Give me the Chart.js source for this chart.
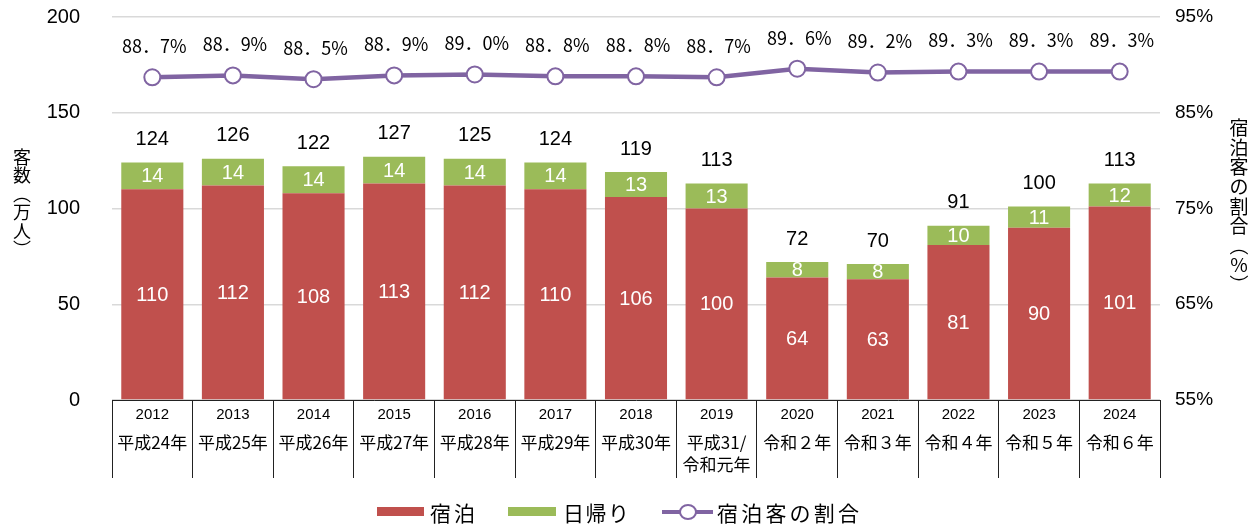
<!DOCTYPE html>
<html><head><meta charset="utf-8">
<script src="https://cdn.jsdelivr.net/npm/chart.js@4/dist/chart.umd.min.js"></script>
<style>html,body{margin:0;padding:0;background:#fff}#w{width:1258px;height:527px}</style>
</head><body><div id="w"><canvas id="c" width="1258" height="527"></canvas></div>
<script>
const years = ['2012','2013','2014','2015','2016','2017','2018','2019','2020','2021','2022','2023','2024'];
const eras = [['平成24年'],['平成25年'],['平成26年'],['平成27年'],['平成28年'],['平成29年'],['平成30年'],['平成31/','令和元年'],['令和２年'],['令和３年'],['令和４年'],['令和５年'],['令和６年']];
const stay = [110,112,108,113,112,110,106,100,64,63,81,90,101];
const dayTrip = [14,14,14,14,14,14,13,13,8,8,10,11,12];
const totals = [124,126,122,127,125,124,119,113,72,70,91,100,113];
const stayRatio = [88.7,88.9,88.5,88.9,89.0,88.8,88.8,88.7,89.6,89.2,89.3,89.3,89.3];
const leftTicks = [0,50,100,150,200];
const rightTicks = [55,65,75,85,95];
const leftTitle = '客数（万人）';
const rightTitle = '宿泊客の割合（%）';

const RED = '#C0504D', GREEN = '#9BBB59', PURPLE = '#8064A2';
const NUM = '"Liberation Sans", Arial, sans-serif';
const JP = '"Noto Sans CJK JP", "Noto Sans", sans-serif';

function vert(ch){ return ch === '（' ? '︵' : ch === '）' ? '︶' : ch; }

const labelsPlugin = {
  id: 'labelsPlugin',
  afterDatasetsDraw(chart) {
    const ctx = chart.ctx;
    ctx.save();
    ctx.textAlign = 'center';
    ctx.textBaseline = 'middle';
    [0,1].forEach(di => {
      const meta = chart.getDatasetMeta(di);
      const data = chart.data.datasets[di].data;
      meta.data.forEach((el, i) => {
        ctx.fillStyle = '#fff';
        ctx.font = '20px ' + NUM;
        ctx.fillText(String(data[i]), el.x, (el.y + el.base) / 2 + 1);
      });
    });
    const gm = chart.getDatasetMeta(1);
    gm.data.forEach((el, i) => {
      ctx.fillStyle = '#000';
      ctx.font = '20px ' + NUM;
      ctx.fillText(String(totals[i]), el.x, el.y - 23);
    });
    const lm = chart.getDatasetMeta(2);
    lm.data.forEach((el, i) => {
      ctx.fillStyle = '#000';
      ctx.font = '18px ' + JP;
      ctx.fillText(stayRatio[i].toFixed(1).replace('.', '．') + '%', el.x + 2, el.y - 31);
    });
    ctx.restore();
  },
  afterDraw(chart) {
    const ctx = chart.ctx;
    const xs = chart.scales.x;
    ctx.save();
    ctx.fillStyle = '#000';
    ctx.textAlign = 'center';
    ctx.textBaseline = 'middle';
    years.forEach((y, i) => {
      const x = xs.getPixelForValue(i);
      ctx.font = '15px ' + NUM;
      ctx.fillText(y, x, 415);
      ctx.font = '17px ' + JP;
      eras[i].forEach((t, k) => ctx.fillText(t, x, 443 + k * 22));
    });
    ctx.font = '18px ' + JP;
    [...leftTitle].forEach((ch, k) => ctx.fillText(vert(ch), 22, 157 + k * 18.5));
    ctx.font = '19px ' + JP;
    [...rightTitle].forEach((ch, k) => ctx.fillText(vert(ch), 1239, 128 + k * 19.6));
    const ly = 512;
    ctx.font = '21px ' + JP;
    ctx.textAlign = 'left';
    const drawSpaced = (txt, x0, step) => [...txt].forEach((ch, k) => ctx.fillText(ch, x0 + k * step, ly + 1));
    ctx.fillStyle = RED; ctx.fillRect(377, 507, 47, 9);
    ctx.fillStyle = '#000'; drawSpaced(chart.data.datasets[0].label, 430, 24);
    ctx.fillStyle = GREEN; ctx.fillRect(508, 507, 48, 9);
    ctx.fillStyle = '#000'; drawSpaced(chart.data.datasets[1].label, 563, 22.5);
    ctx.strokeStyle = PURPLE; ctx.lineWidth = 4;
    ctx.beginPath(); ctx.moveTo(662, ly); ctx.lineTo(713, ly); ctx.stroke();
    ctx.beginPath(); ctx.ellipse(688, ly, 8, 7, 0, 0, Math.PI * 2);
    ctx.fillStyle = '#fff'; ctx.fill(); ctx.lineWidth = 2; ctx.stroke();
    ctx.fillStyle = '#000'; drawSpaced(chart.data.datasets[2].label, 717, 24.2);
    ctx.restore();
  }
};

new Chart(document.getElementById('c'), {
  data: {
    labels: years,
    datasets: [
      { type: 'bar', label: '宿泊', data: stay, backgroundColor: RED, borderWidth: 0, stack: 's', yAxisID: 'y', barPercentage: 0.77, categoryPercentage: 1, order: 1 },
      { type: 'bar', label: '日帰り', data: dayTrip, backgroundColor: GREEN, borderWidth: 0, stack: 's', yAxisID: 'y', barPercentage: 0.77, categoryPercentage: 1, order: 1 },
      { type: 'line', label: '宿泊客の割合', data: stayRatio, yAxisID: 'y1', borderColor: PURPLE, borderWidth: 4.5, pointRadius: 8, pointBackgroundColor: '#fff', pointBorderColor: PURPLE, pointBorderWidth: 2, tension: 0, order: 0 }
    ]
  },
  options: {
    responsive: false,
    animation: false,
    events: [],
    layout: { padding: { top: 17, left: 0, right: 0, bottom: 0 } },
    plugins: {
      legend: { display: false, padding: 0 },
      tooltip: { enabled: false },
      title: { display: false, padding: 0 },
      subtitle: { display: false, padding: 0 }
    },
    scales: {
      x: {
        stacked: true,
        offset: true,
        grid: { drawOnChartArea: false, drawTicks: true, tickLength: 78, color: '#222', lineWidth: 1, offset: true },
        border: { display: true, color: '#222', width: 1 },
        ticks: { display: false },
        afterFit: s => { s.height = 127; s.paddingLeft = 0; s.paddingRight = 0; }
      },
      y: {
        stacked: true,
        position: 'left',
        min: 0, max: 200,
        afterBuildTicks: s => { s.ticks = leftTicks.map(v => ({ value: v })); },
        ticks: { font: { size: 20, family: NUM }, color: '#000', padding: 32 },
        grid: { color: '#d9d9d9', lineWidth: 1.5, drawTicks: false },
        border: { display: false },
        afterFit: s => { s.width = 112; s.paddingTop = 0; s.paddingBottom = 0; }
      },
      y1: {
        position: 'right',
        min: 55, max: 95,
        afterBuildTicks: s => { s.ticks = rightTicks.map(v => ({ value: v })); },
        ticks: { font: { size: 19, family: NUM }, color: '#000', padding: 15, callback: v => v + '%' },
        grid: { drawOnChartArea: false, drawTicks: false },
        border: { display: false },
        afterFit: s => { s.width = 98; s.paddingTop = 0; s.paddingBottom = 0; }
      }
    }
  },
  plugins: [labelsPlugin]
});
</script>
</body></html>
